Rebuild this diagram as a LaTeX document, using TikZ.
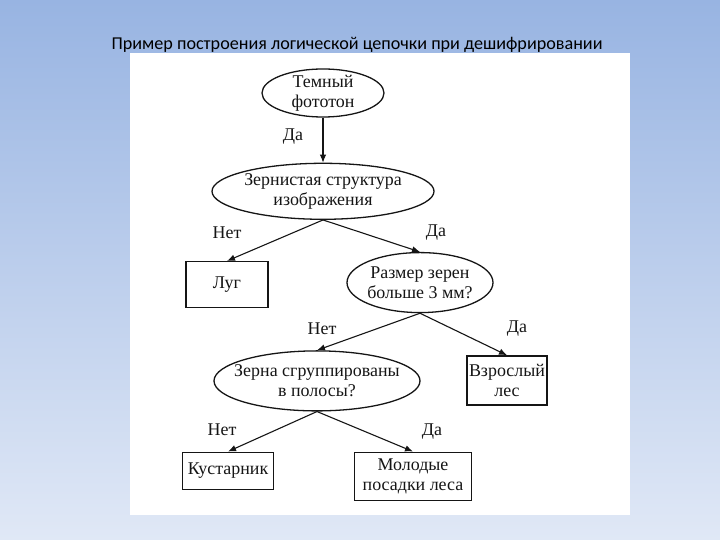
\documentclass[tikz,border=0pt]{standalone}
\usepackage{fontspec}
\setmainfont{Liberation Serif}
\newfontfamily\titlefont{Carlito}
\usepackage{xcolor}
\usepackage{tikz}
\usetikzlibrary{arrows.meta,positioning,shapes.geometric}
\definecolor{skytop}{HTML}{98B4E2}
\definecolor{skybottom}{HTML}{E0E8F6}
\definecolor{scanink}{HTML}{151515}
\tikzset{
  qnode/.style={ellipse, draw=scanink, line width=1.3pt, text=scanink, align=center, inner xsep=-20bp, inner ysep=-2bp, font=\fontsize{18}{20}\selectfont},
  rbox/.style={rectangle, draw=scanink, line width=1.3pt, text=scanink, align=center, inner sep=0pt, font=\fontsize{18}{20}\selectfont},
  qarrow/.style={-{Latex[length=8bp,width=6.5bp]}, line width=1.1pt, draw=scanink},
  qlabel/.style={font=\fontsize{18}{20}\selectfont, text=scanink, inner sep=1bp},
}

\begin{document}
\begin{tikzpicture}[x=1bp, y=1bp]
  \useasboundingbox (0,0) rectangle (720,-540);
  % slide
  \shade[top color=skytop, bottom color=skybottom] (0,0) rectangle (720,-540);
  \fill[white] (130,-53) rectangle (630,-515);
  \node[anchor=base, text=black, font=\titlefont\fontsize{18.2}{22}\selectfont] (title) at (357,-50) {Пример построения логической цепочки при дешифрировании};
  % questions
  \node[qnode, minimum width=122bp, minimum height=48bp] (dark) at (323,-93) {Темный\\фототон};
  \node[qnode, below=45bp of dark, minimum width=222bp, minimum height=56bp] (grain) {Зернистая структура\\изображения};
  \node[qnode, below=32bp of grain, xshift=97bp, minimum width=146bp, minimum height=60bp] (size) {Размер зерен\\больше 3 мм?};
  \node[qnode, below=37bp of size, xshift=-103bp, minimum width=206bp, minimum height=60bp] (strip) {Зерна сгруппированы\\в полосы?};
  % answers
  \node[rbox, below=41bp of grain, xshift=-96bp, minimum width=82bp, minimum height=46bp] (meadow) {Луг};
  \node[rbox, below=42bp of size, xshift=87bp, minimum width=80bp, minimum height=49bp] (forest) {Взрослый\\лес};
  \node[rbox, below=40bp of strip, xshift=-89bp, minimum width=91bp, minimum height=37bp] (shrub) {Кустарник};
  \node[rbox, below=40bp of strip, xshift=96bp, minimum width=117bp, minimum height=48bp] (young) {Молодые\\посадки леса};
  % arrows
  \draw[qarrow] (dark.south) -- node[qlabel, pos=1, above=17bp, xshift=-30bp]{Да} (grain.north);
  \draw[qarrow] (grain.south) -- node[qlabel, pos=1, above=21bp]{Нет} (meadow.north);
  \draw[qarrow] (grain.south) -- node[qlabel, pos=1, above=10bp, xshift=16bp]{Да} (size.north);
  \draw[qarrow] (size.south) -- node[qlabel, pos=1, above=14bp, xshift=5bp]{Нет} (strip.north);
  \draw[qarrow] (size.south) -- node[qlabel, pos=1, above=17bp, xshift=10bp]{Да} (forest.north);
  \draw[qarrow] (strip.south) -- node[qlabel, pos=1, above=14bp, xshift=-6bp]{Нет} (shrub.north);
  \draw[qarrow] (strip.south) -- node[qlabel, pos=1, above=11bp, xshift=19bp]{Да} (young.north);
\end{tikzpicture}
\end{document}
